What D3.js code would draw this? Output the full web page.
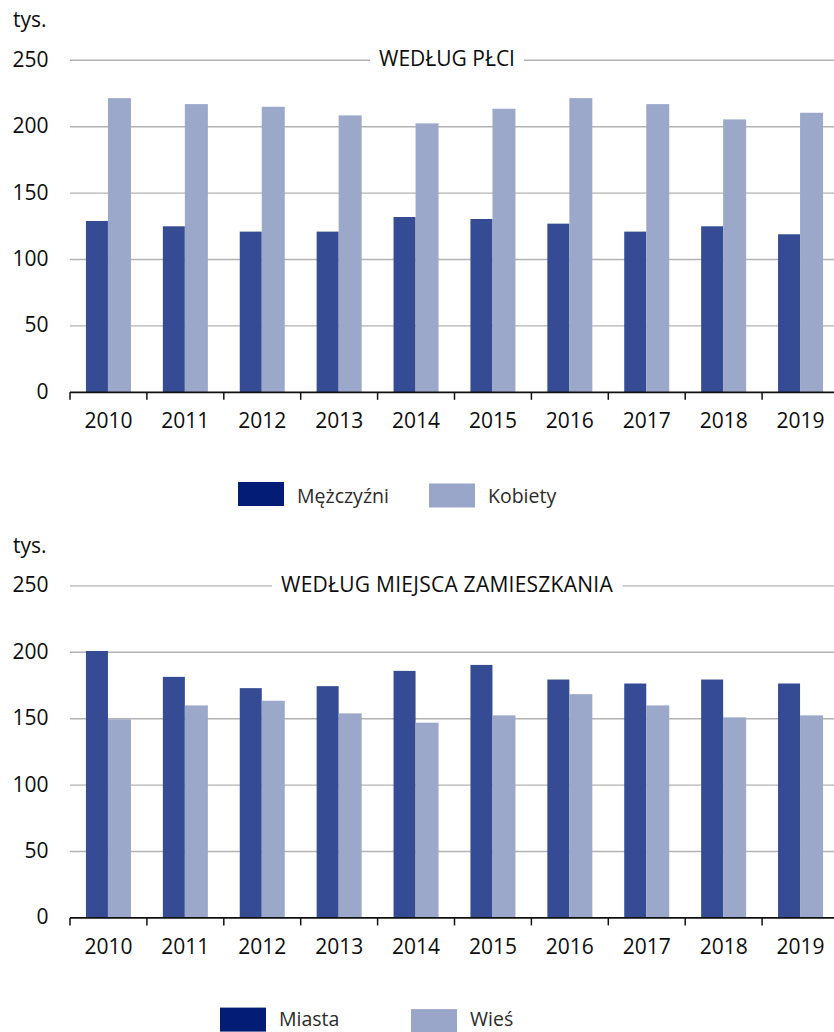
<!DOCTYPE html>
<html>
<head>
<meta charset="utf-8">
<script src="https://cdn.jsdelivr.net/npm/d3@7"></script>
<style>
  html, body { margin: 0; padding: 0; background: #fff; }
  svg { display: block; font-family: "Open Sans", "Noto Sans", sans-serif; }
</style>
</head>
<body>
<svg id="chart" width="834" height="1032"></svg>
<script>
const years = ["2010","2011","2012","2013","2014","2015","2016","2017","2018","2019"];
const yTicks = [0, 50, 100, 150, 200, 250];

// Panel 1: by sex (thousands)
const title1 = "WEDŁUG PŁCI";
const seriesNames1 = ["Mężczyźni", "Kobiety"];
const men   = [129, 125, 121, 121, 132, 130.5, 127, 121, 125, 119];
const women = [221.5, 217, 215, 208.5, 202.5, 213.5, 221.5, 217, 205.5, 210.5];

// Panel 2: by place of residence (thousands)
const title2 = "WEDŁUG MIEJSCA ZAMIESZKANIA";
const seriesNames2 = ["Miasta", "Wieś"];
const urban = [201, 181.5, 173, 174.5, 186, 190.5, 179.5, 176.5, 179.5, 176.5];
const rural = [149.5, 160, 163.5, 154, 147, 152.5, 168.5, 160, 151, 152.5];

const barColors = ["#354b94", "#9ba8ca"];
const legendColors = ["#031c75", "#9aa6c9"];

const svg = d3.select("#chart");

function panel(offsetY, title, titleSpacing, names, s1, s2, legendX, legendTextY) {
  const g = svg.append("g").attr("transform", `translate(0,${offsetY})`);
  const x = d3.scaleBand().domain(years).range([70, 839]).padding(0);
  const y = d3.scaleLinear().domain([0, 250]).range([392.3, 60.3]);

  // unit label
  g.append("text").attr("x", 13).attr("y", 27).attr("font-size", 21)
    .attr("fill", "#0d0d0d").text("tys.");

  // title
  const tx = 447;
  const t = g.append("text").attr("x", tx).attr("y", 66).attr("text-anchor", "middle")
    .attr("font-size", 21).attr("letter-spacing", titleSpacing).attr("fill", "#0d0d0d").text(title);
  const bb = t.node().getBBox();

  // gridlines
  yTicks.filter(v => v > 0).forEach(v => {
    if (v === 250) {
      g.append("line").attr("x1", 70).attr("x2", bb.x - 9)
        .attr("y1", y(v)).attr("y2", y(v)).attr("stroke", "#b3b3b3").attr("stroke-width", 1.4);
      g.append("line").attr("x1", bb.x + bb.width + 9).attr("x2", 834)
        .attr("y1", y(v)).attr("y2", y(v)).attr("stroke", "#b3b3b3").attr("stroke-width", 1.4);
    } else {
      g.append("line").attr("x1", 70).attr("x2", 834)
        .attr("y1", y(v)).attr("y2", y(v)).attr("stroke", "#b3b3b3").attr("stroke-width", 1.4);
    }
  });

  // y labels
  g.selectAll(".ylab").data(yTicks).enter().append("text")
    .attr("x", 48.5).attr("y", d => y(d) + 6.5).attr("text-anchor", "end")
    .attr("font-size", 21).attr("fill", "#0d0d0d").text(d => d);

  // bars
  const bw = 22;
  const data = years.map((yr, i) => ({ yr, a: s1[i], b: s2[i] }));
  g.selectAll(".ba").data(data).enter().append("rect")
    .attr("x", d => x(d.yr) + x.bandwidth() / 2 - bw - 0.5)
    .attr("width", bw)
    .attr("y", d => y(d.a)).attr("height", d => y(0) - y(d.a))
    .attr("fill", barColors[0]);
  g.selectAll(".bb").data(data).enter().append("rect")
    .attr("x", d => x(d.yr) + x.bandwidth() / 2 - 0.5)
    .attr("width", bw + 1)
    .attr("y", d => y(d.b)).attr("height", d => y(0) - y(d.b))
    .attr("fill", barColors[1]);

  // x axis
  const axis = d3.axisBottom(x).tickSize(0).tickFormat(d => d);
  const ax = g.append("g").attr("transform", `translate(0,${y(0)})`).call(axis);
  ax.select(".domain").remove();
  ax.selectAll("text").attr("font-size", 21).attr("fill", "#0d0d0d")
    .attr("font-family", "'Open Sans', sans-serif").attr("dy", null).attr("y", 36);
  g.append("line").attr("x1", 70).attr("x2", 834).attr("y1", y(0)).attr("y2", y(0))
    .attr("stroke", "#111").attr("stroke-width", 1.7);
  years.forEach(yr => {
    const xx = x(yr);
    g.append("line").attr("x1", xx).attr("x2", xx).attr("y1", y(0)).attr("y2", y(0) + 7.5)
      .attr("stroke", "#111").attr("stroke-width", 1.5);
  });

  // legend
  names.forEach((n, i) => {
    g.append("rect").attr("x", legendX[i]).attr("y", 482 + i * 1.5).attr("width", 46).attr("height", 24)
      .attr("fill", legendColors[i]);
    g.append("text").attr("x", legendX[i] + 59).attr("y", legendTextY)
      .attr("font-size", 19.5).attr("fill", "#2b2b2b").text(n);
  });
}

panel(0, title1, 0, seriesNames1, men, women, [238, 429], 502.8);
panel(525.6, title2, 0.25, seriesNames2, urban, rural, [220, 411], 500.6);
</script>
</body>
</html>
